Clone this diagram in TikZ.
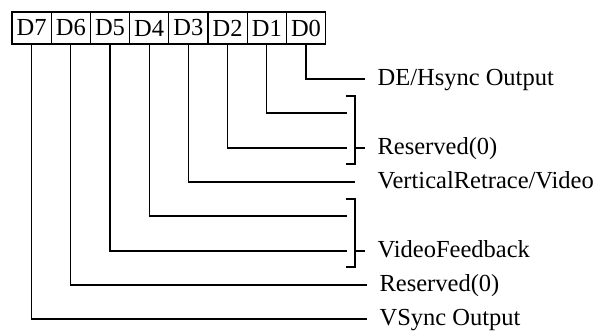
\documentclass[tikz,border=0pt]{standalone}
\usepackage{fontspec}
\setmainfont{Liberation Serif}
\usetikzlibrary{positioning}

\begin{document}
\begin{tikzpicture}[x=0.5pt, y=-0.5pt, line width=0.6pt,
    every node/.style={font=\fontsize{12.25pt}{14pt}\selectfont},
    bitbox/.style={draw, minimum width=19.6pt, minimum height=16pt, inner sep=0pt, outer sep=0pt},
    lbl/.style={anchor=west, inner xsep=6pt, inner ysep=0pt, text height=0.66em, text depth=0pt}]
    \useasboundingbox (0,0) rectangle (608,331);

    % Register bits
    \node[bitbox] (b7) at (31.6,28) {D7};
    \node[bitbox, right=0pt of b7] (b6) {D6};
    \node[bitbox, right=0pt of b6] (b5) {D5};
    \node[bitbox, right=0pt of b5] (b4) {D4};
    \node[bitbox, right=0pt of b4] (b3) {D3};
    \node[bitbox, right=0pt of b3] (b2) {D2};
    \node[bitbox, right=0pt of b2] (b1) {D1};
    \node[bitbox, right=0pt of b1] (b0) {D0};

    % Labels
    \node[lbl] (l0) at (365,79) {DE/Hsync Output};
    \node[lbl] (l2) at (365,148) {Reserved(0)};
    \node[lbl] (l3) at (365,182) {VerticalRetrace/Video};
    \node[lbl] (l5) at (365,251) {VideoFeedback};
    \node[lbl] (l6) at (367,285) {Reserved(0)};
    \node[lbl] (l7) at (367,319) {VSync Output};
    \coordinate (r1) at (347,113);
    \coordinate (r2) at (347,148);
    \coordinate (r4) at (347,216);
    \coordinate (r5) at (347,251);

    % Lines
    \draw (b0.south) |- (l0.west);
    \draw (b1.south) |- (r1);
    \draw (b2.south) |- (r2);
    \draw[shorten >=5pt] (b3.south) |- (l3.west);
    \draw (b4.south) |- (r4);
    \draw (b5.south) |- (r5);
    \draw (b6.south) |- (l6.west);
    \draw (b7.south) |- (l7.west);

    % Brackets
    \draw (346,96) -- (355,96) -- (355,164) -- (346,164);
    \draw (355,148) -- (l2.west);
    \draw (346,199) -- (355,199) -- (355,267) -- (346,267);
    \draw (355,251) -- (l5.west);
\end{tikzpicture}
\end{document}
